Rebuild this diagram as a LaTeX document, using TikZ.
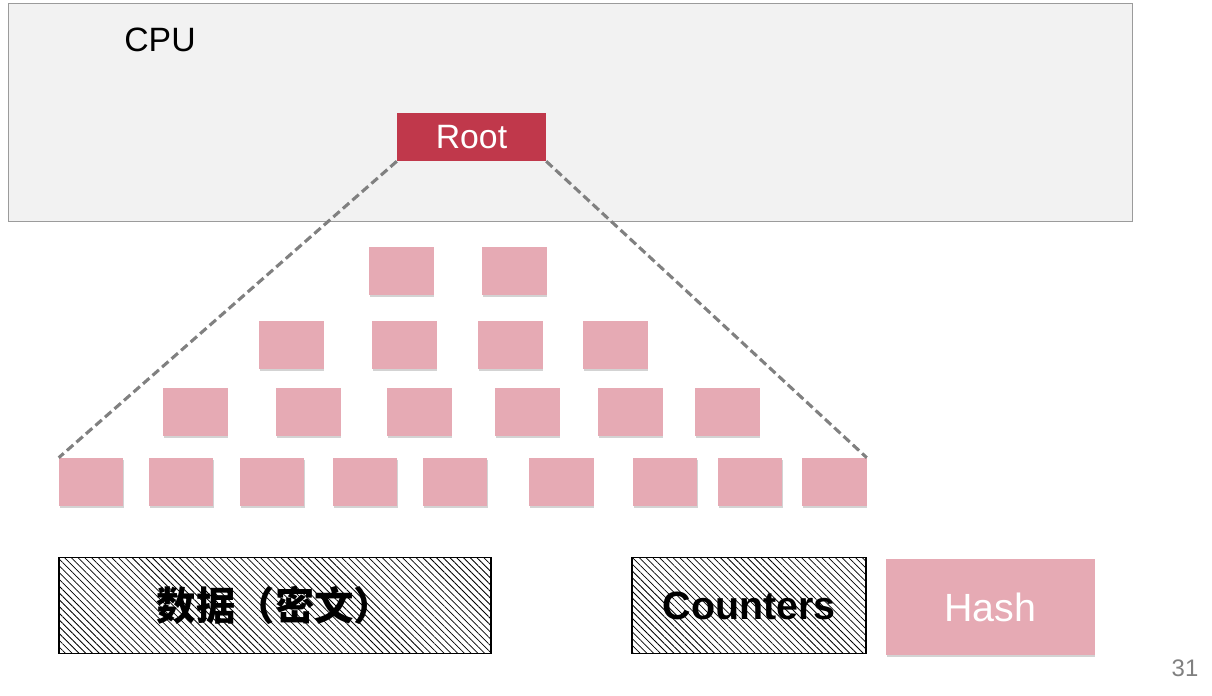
\documentclass[tikz,border=0pt]{standalone}
\usepackage{fontspec}
\setmainfont{Liberation Sans}
\newfontfamily\cjk{Noto Sans CJK SC}
\usetikzlibrary{patterns.meta,shadows}
\definecolor{cpugray}{RGB}{242,242,242}
\definecolor{cpuline}{RGB}{155,155,155}
\definecolor{rootred}{RGB}{192,56,75}
\definecolor{hashpink}{RGB}{230,170,180}
\definecolor{dashgray}{RGB}{128,128,128}
\tikzset{
  hashbox/.style={fill=hashpink, minimum width=1.6cm, minimum height=1.2cm, inner sep=0pt,
    drop shadow={shadow xshift=0.4pt, shadow yshift=-1.3pt, opacity=0.35}},
  hatchbox/.style={draw=black, line width=1pt, pattern={Lines[angle=-45, distance=3.4pt, line width=0.55pt]},
    inner sep=0pt, minimum height=2.4cm, font=\fontsize{28}{32}\selectfont\bfseries},
  treeline/.style={draw=dashgray, line width=2.2pt, dash pattern=on 6pt off 3pt}
}
\begin{document}
\begin{tikzpicture}[x=0.025cm, y=-0.025cm]
  \useasboundingbox (0,0) rectangle (1212,696);
  % CPU area
  \node[draw=cpuline, fill=cpugray, line width=1pt, minimum width=28.1cm, minimum height=5.45cm] (cpu) at (570.5,112.5) {};
  \node[font=\fontsize{24}{28}\selectfont] (cpulabel) at (160,40) {CPU};
  \node[fill=rootred, text=white, minimum width=3.72cm, minimum height=1.2cm, inner sep=0pt,
    font=\fontsize{24}{28}\selectfont] (root) at (471.5,137) {Root};
  % hash tree
  \foreach \x [count=\i] in {401.5,514.5}
    \node[hashbox] (a\i) at (\x,271) {};
  \foreach \x [count=\i] in {291.5,404.5,510.5,615.5}
    \node[hashbox] (b\i) at (\x,345) {};
  \foreach \x [count=\i] in {195.5,308.5,419.5,527.5,630.5,727.5}
    \node[hashbox] (c\i) at (\x,412) {};
  \foreach \x [count=\i] in {91,181,272,365,455,561.5,665,750,834.5}
    \node[hashbox] (d\i) at (\x,482) {};
  \draw[treeline] (root.south west) -- (d1.north west);
  \draw[treeline] (root.south east) -- (d9.north east);
  % legend
  \node[hatchbox, minimum width=10.8cm] (data) at (275,605.5) {\cjk 数据（密文）};
  \node[hatchbox, minimum width=5.85cm] (counters) at (749,605.5) {Counters};
  \node[hashbox, minimum width=5.22cm, minimum height=2.4cm, text=white,
    font=\fontsize{28}{32}\selectfont] (hash) at (990.5,607) {Hash};
  \node[text=gray, font=\fontsize{17}{20}\selectfont] (page) at (1185,668) {31};
\end{tikzpicture}
\end{document}
